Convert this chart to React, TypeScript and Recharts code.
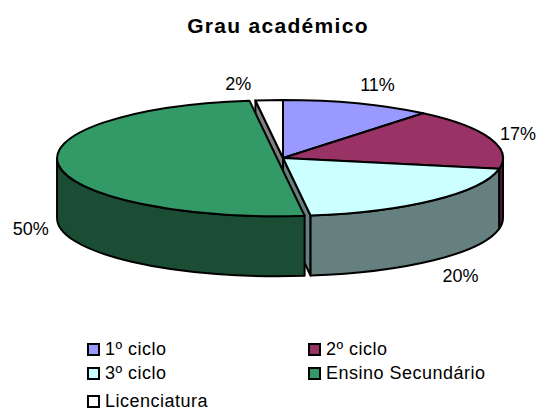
import { Legend, Pie, PieChart } from 'recharts';

// legend order
const categories = ['1º ciclo', '2º ciclo', '3º ciclo', 'Ensino Secundário', 'Licenciatura'];
const values = [11, 17, 20, 50, 2];
const topColors = ['#9999FF', '#993366', '#CCFFFF', '#339966', '#FFFFFF'];
const sideColors = ['#4D4D80', '#4D1933', '#668080', '#1A4D33', '#808080'];

// painter's order: Licenciatura goes first so the exploded slice can cover its cut face
const drawOrder = [4, 0, 1, 2, 3];
const pieData = drawOrder.map((i) => ({
  name: categories[i],
  value: values[i],
  fill: topColors[i],
  side: sideColors[i],
}));

const EXPLODED = 'Ensino Secundário';
const CUT_END = '3º ciclo';
const CUT_START = 'Licenciatura';
const TILT = 58 / 220;
const DEPTH = 60;
const EXPLODE_BY = 6;
const FONT = '"Liberation Sans", Arial, sans-serif';

const labelShift: Record<string, [number, number]> = {
  '1º ciclo': [20, -18],
  '2º ciclo': [28, -4],
  '3º ciclo': [27, 76],
  'Ensino Secundário': [-34, 64],
  Licenciatura: [-31, -16],
};

const RAD = Math.PI / 180;

function Slice3D(props: any) {
  const { cx, cy, outerRadius, startAngle, endAngle, fill, name } = props;
  const side = props.side ?? props.payload?.side;
  const rx = outerRadius;
  const ry = outerRadius * TILT;
  const mid = ((startAngle + endAngle) / 2) * RAD;
  const ox = name === EXPLODED ? cx + EXPLODE_BY * Math.cos(mid) : cx;
  const oy = name === EXPLODED ? cy - EXPLODE_BY * TILT * Math.sin(mid) : cy;
  const pt = (deg: number, dy = 0) =>
    `${ox + rx * Math.cos(deg * RAD)} ${oy - ry * Math.sin(deg * RAD) + dy}`;
  const large = Math.abs(startAngle - endAngle) > 180 ? 1 : 0;
  const top = `M${ox} ${oy} L${pt(startAngle)} A${rx} ${ry} 0 ${large} 1 ${pt(endAngle)} Z`;

  // outer wall, only the part on the near half of the ellipse
  const wallFrom = Math.min(startAngle, 0);
  const wallTo = Math.max(endAngle, -180);
  const wall =
    wallFrom > wallTo
      ? `M${pt(wallFrom)} A${rx} ${ry} 0 0 1 ${pt(wallTo)} L${pt(wallTo, DEPTH)} A${rx} ${ry} 0 0 0 ${pt(wallFrom, DEPTH)} Z`
      : null;

  const cutAngle = name === CUT_END ? endAngle : name === CUT_START ? startAngle : null;
  const cut =
    cutAngle !== null
      ? `M${ox} ${oy} L${pt(cutAngle)} L${pt(cutAngle, DEPTH)} L${ox} ${oy + DEPTH} Z`
      : null;

  return (
    <g stroke="#000" strokeWidth={2} strokeLinejoin="round">
      {cut && <path d={cut} fill={side} />}
      {wall && <path d={wall} fill={side} />}
      <path d={top} fill={fill} />
    </g>
  );
}

function PercentLabel(props: any) {
  const { cx, cy, outerRadius, midAngle, name, value } = props;
  const [dx, dy] = labelShift[name] ?? [0, 0];
  const x = cx + outerRadius * Math.cos(midAngle * RAD) + dx;
  const y = cy - outerRadius * TILT * Math.sin(midAngle * RAD) + dy;
  return (
    <text x={x} y={y} textAnchor="middle" dominantBaseline="central" fontFamily={FONT} fontSize={18} fill="#000" stroke="none">
      {value}%
    </text>
  );
}

function LegendBox() {
  return (
    <div
      style={{
        display: 'grid',
        gridTemplateColumns: '221px 200px',
        gridTemplateRows: '24px 24px 32px',
        fontFamily: FONT,
        fontSize: 18,
        letterSpacing: 0.5,
        color: '#000',
      }}
    >
      {categories.map((c, i) => (
        <div key={c} style={{ display: 'flex', alignItems: 'center', whiteSpace: 'nowrap' }}>
          <span
            style={{
              width: 9,
              height: 9,
              border: '2px solid #000',
              background: topColors[i],
              marginRight: 5,
              boxSizing: 'content-box',
            }}
          />
          {c}
        </div>
      ))}
    </div>
  );
}

export default function App() {
  return (
    <div style={{ position: 'absolute', left: 0, top: 0, width: 536, height: 409, background: '#fff' }}>
      <PieChart width={536} height={409} margin={{ top: 0, right: 0, bottom: 0, left: 0 }}>
        <text x={278} y={25} textAnchor="middle" dominantBaseline="central" fontFamily={FONT} fontSize={21} fontWeight="bold" letterSpacing={1.3}>
          Grau académico
        </text>
        <Pie
          data={pieData}
          dataKey="value"
          nameKey="name"
          cx={283}
          cy={158}
          outerRadius={220}
          startAngle={97.2}
          endAngle={-262.8}
          shape={Slice3D}
          label={PercentLabel}
          labelLine={false}
          isAnimationActive={false}
        />
        <Legend
          content={LegendBox}
          wrapperStyle={{ position: 'absolute', left: 87, top: 337, width: 430, bottom: 'auto' }}
        />
      </PieChart>
    </div>
  );
}
